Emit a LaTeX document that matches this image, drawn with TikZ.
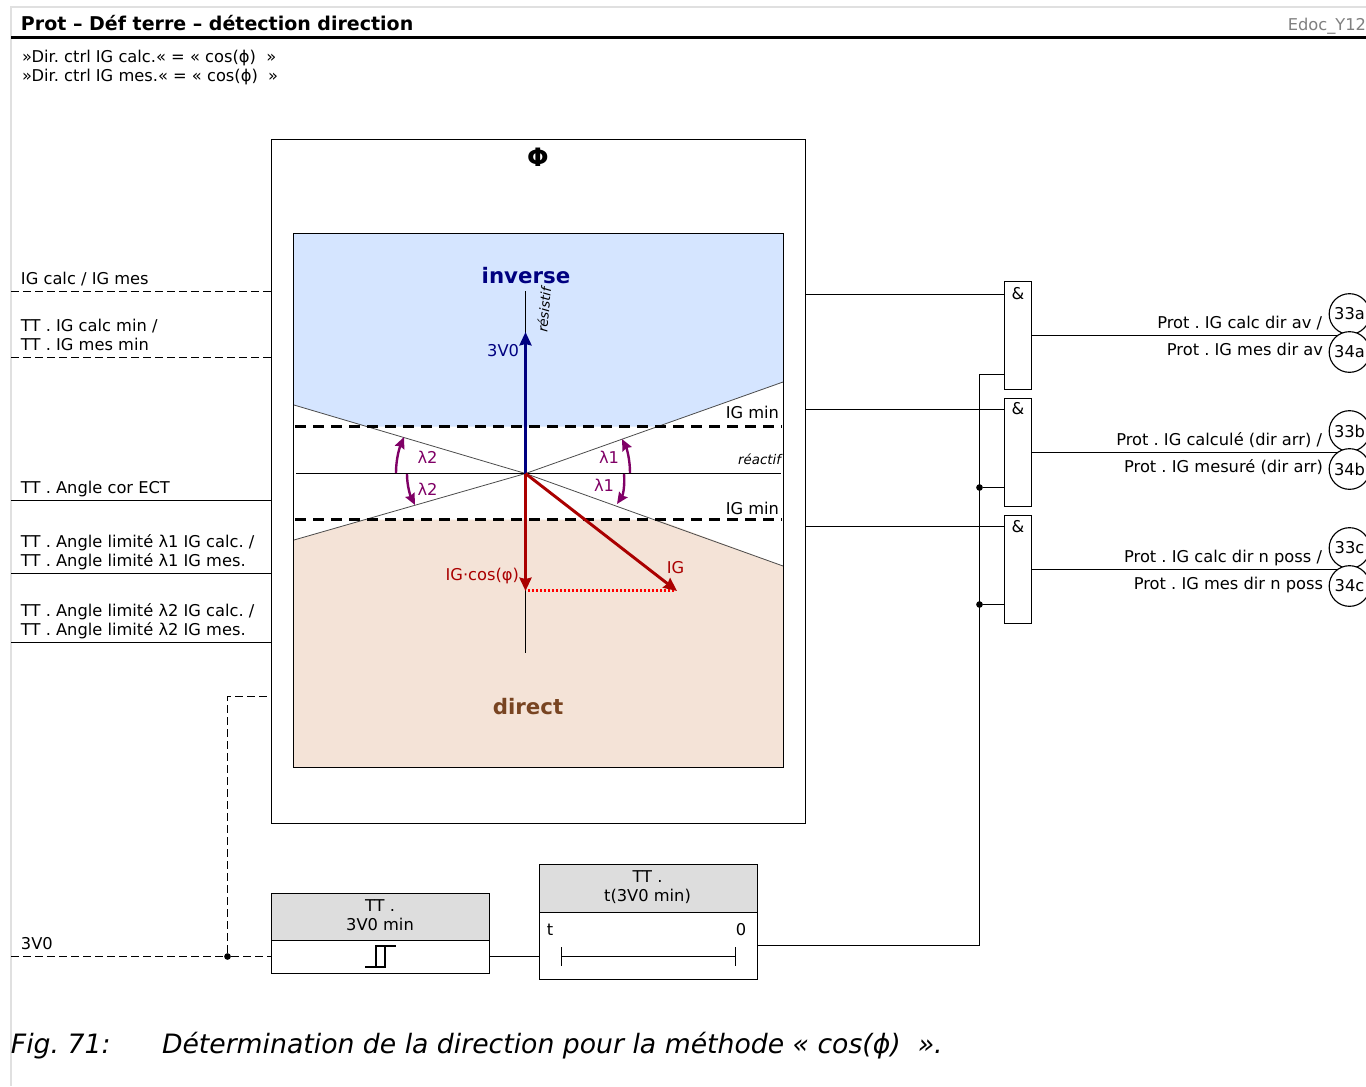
\documentclass[tikz,border=0pt]{standalone}
\usepackage{fontspec}
\setmainfont{DejaVu Sans}
\usetikzlibrary{arrows.meta}
\definecolor{navyc}{HTML}{000080}
\definecolor{redc}{HTML}{AA0000}
\definecolor{purc}{HTML}{800066}
\definecolor{brownc}{HTML}{784421}
\definecolor{bluef}{HTML}{D5E5FF}
\definecolor{brownf}{HTML}{F4E3D7}
\definecolor{greyf}{HTML}{DDDDDD}
\tikzset{
  x=0.75pt,y=-0.75pt,
  wire/.style={line width=1.05pt,black},
  dwire/.style={line width=0.9pt,black,dash pattern=on 6pt off 3pt},
  txt/.style={inner sep=0pt,outer sep=0pt,font=\fontsize{12.2}{14.25}\selectfont\frenchspacing,align=left,anchor=base west},
  rtxt/.style={txt,align=right,anchor=base east},
  ctxt/.style={inner sep=0pt,outer sep=0pt,font=\fontsize{12.2}{14.25}\selectfont\frenchspacing,align=center,anchor=base},
  pbox/.style 2 args={draw=black,line width=1.05pt,minimum width=#1*0.75pt,minimum height=#2*0.75pt,inner sep=0pt,outer sep=0pt,anchor=north west},
  andbox/.style={pbox={27}{108},fill=white},
  ring/.style={circle,draw=black,line width=0.85pt,fill=white,minimum size=30.5pt,inner sep=0pt,font=\fontsize{12.2}{14}\selectfont},
  sector/.style={line width=0.6pt,black!70},
  thick dash/.style={line width=1.6pt,black,dash pattern=on 8.5pt off 5pt},
  purarrow/.style={line width=1.8pt,purc,-{Stealth[length=8.5pt,width=7.5pt,inset=1pt]}},
  redarrow/.style={line width=2.2pt,redc,-{Stealth[length=10pt,width=9pt,inset=1pt]}},
  dot/.style={circle,fill=black,minimum size=5pt,inner sep=0pt},
}
\begin{document}
\begin{tikzpicture}
\useasboundingbox (0,0) rectangle (1366,1086);
\clip (0,0) rectangle (1366,1086);
\fill[white] (0,0) rectangle (1366,1086);
% page frame
\draw[line width=1pt,black!12] (11,1086) -- (11,7) -- (1366,7);
\draw[line width=1.9pt,black] (11,37.5) -- (1366,37.5);
\node[txt,font=\fontsize{14.25}{17}\selectfont\bfseries\frenchspacing] (title) at (21,30) {Prot – Déf terre – détection direction};
\node[rtxt,text=black!50] (edoc) at (1366,30.5) {Edoc\_Y12};
\node[txt] (head) at (22,81) {»Dir. ctrl IG calc.« = « cos(ϕ)\ \ »\\»Dir. ctrl IG mes.« = « cos(ϕ)\ \ »};
% outer box
\node[pbox={534}{684}] (outer) at (271.5,139.5) {};
\node[font=\fontsize{19}{21}\selectfont\bfseries,inner sep=0pt] (phi) at (538,157) {Φ};
% regions
\fill[bluef] (293.5,233.5) -- (783.5,233.5) -- (783.5,382) -- (657,426.7) -- (367,426.7) -- (293.5,405) -- cycle;
\fill[brownf] (293.5,540) -- (365,519.5) -- (657,519.5) -- (783.5,566) -- (783.5,767.5) -- (293.5,767.5) -- cycle;
\node[pbox={490}{534}] (inner) at (293.5,233.5) {};
\coordinate (c) at (525.5,473.5);
\coordinate (lu) at (294,405);
\coordinate (ru) at (783,382);
\coordinate (ll) at (294,540);
\coordinate (rl) at (783,566);
\draw[sector] (lu) -- (c) -- (ru);
\draw[sector] (ll) -- (c) -- (rl);
\coordinate (h1) at (296,473.5);
\coordinate (h2) at (781,473.5);
\draw[line width=1.15pt] (h1) -- (h2);
\coordinate (vt) at (525.5,291);
\coordinate (vb) at (525.5,653);
\draw[line width=1.15pt] (vt) -- (vb);
\coordinate (d1a) at (295,426.5);
\coordinate (d1b) at (782,426.5);
\coordinate (d2a) at (295,519.5);
\coordinate (d2b) at (782,519.5);
\draw[thick dash] (d1a) -- (d1b);
\draw[thick dash] (d2a) -- (d2b);
% vectors
\coordinate (v3) at (525.5,332);
\coordinate (vc) at (525.5,591);
\coordinate (vi) at (677,591);
\draw[line width=2.2pt,navyc,-{Stealth[length=10pt,width=9pt,inset=1pt]}] (c) -- (v3);
\draw[line width=1.7pt,red,dash pattern=on 1.7pt off 1.3pt] (528,590.5) -- (674,590.5);
\draw[redarrow] (c) -- (vc);
\draw[redarrow] (c) -- (vi);
% angle arcs
\draw[purarrow] (396,473) .. controls (396,460) and (399,449) .. (404,437);
\draw[purarrow] (407,474) .. controls (407,485) and (410,495) .. (415,505);
\draw[purarrow] (630,473) .. controls (630,460) and (627,449) .. (622,439);
\draw[purarrow] (624,474) .. controls (625,485) and (623,495) .. (617,504);
% labels in the diagram
\node[ctxt,font=\fontsize{16}{20}\selectfont\bfseries,text=navyc] (inv) at (526,283) {inverse};
\node[ctxt,font=\fontsize{16}{20}\selectfont\bfseries,text=brownc] (dir) at (528,714) {direct};
\node[ctxt,font=\fontsize{10}{12}\selectfont\itshape,rotate=85,anchor=center] (res) at (544,310) {résistif};
\node[rtxt,font=\fontsize{10}{12}\selectfont\itshape] (rea) at (781,464) {réactif};
\node[rtxt,text=navyc] (l3v) at (519,356) {3V0};
\node[rtxt] (ig1) at (779,418) {IG min};
\node[rtxt] (ig2) at (779,514) {IG min};
\node[ctxt,text=purc] (la1) at (427.5,463) {λ2};
\node[ctxt,text=purc] (la2) at (427.5,495) {λ2};
\node[ctxt,text=purc] (la3) at (609,463) {λ1};
\node[ctxt,text=purc] (la4) at (604,491) {λ1};
\node[rtxt,text=redc] (lic) at (519,580) {IG·cos(φ)};
\node[ctxt,text=redc] (lig) at (675.5,573) {IG};
% left inputs
\node[txt] (t1) at (21,284) {IG calc / IG mes};
\node[txt] (t2) at (21,350) {TT . IG calc min /\\TT . IG mes min};
\node[txt] (t3) at (21,493) {TT . Angle cor ECT};
\node[txt] (t4) at (21,566) {TT . Angle limité λ1 IG calc. /\\TT . Angle limité λ1 IG mes.};
\node[txt] (t5) at (21,635) {TT . Angle limité λ2 IG calc. /\\TT . Angle limité λ2 IG mes.};
\node[txt] (t6) at (21,949) {3V0};
\coordinate (s1) at (11,291.5);
\coordinate (s2) at (11,357.5);
\coordinate (s3) at (11,500.5);
\coordinate (s4) at (11,573.5);
\coordinate (s5) at (11,642.5);
\coordinate (s6) at (11,956.5);
\draw[dwire] (s1) -- (outer.west |- s1);
\draw[dwire] (s2) -- (outer.west |- s2);
\draw[wire] (s3) -- (outer.west |- s3);
\draw[wire] (s4) -- (outer.west |- s4);
\draw[wire] (s5) -- (outer.west |- s5);
% threshold block
\node[pbox={218}{80}] (thr) at (271.5,893.5) {};
\fill[greyf] (271.5,893.5) rectangle (489.5,940.5);
\node[pbox={218}{80}] at (271.5,893.5) {};
\draw[wire] (271.5,940.5) -- (489.5,940.5);
\node[ctxt] (thrt) at (380,930.5) {TT .\\3V0 min};
\draw[line width=1pt] (365,967) -- (376,967) -- (376,946) -- (396,946);
\draw[line width=1pt] (385,946) -- (385,967) -- (376,967);
% timer block
\node[pbox={218}{115}] (tim) at (539.5,864.5) {};
\fill[greyf] (539.5,864.5) rectangle (757.5,912.5);
\node[pbox={218}{115}] at (539.5,864.5) {};
\draw[wire] (539.5,912.5) -- (757.5,912.5);
\node[ctxt] (timt) at (647.5,901) {TT .\\t(3V0 min)};
\node[ctxt] (tl) at (550,935) {t};
\node[ctxt] (zl) at (741,935) {0};
\coordinate (ba) at (561,956.5);
\coordinate (bb) at (736,956.5);
\draw[line width=1.05pt,{Bar[width=14pt,length=0pt]}-{Bar[width=14pt,length=0pt]}] (ba) -- (bb);
% wiring bottom
\node[dot] (j1) at (227.5,956.5) {};
\draw[dwire] (s6) -- (j1);
\draw[dwire] (j1) -- (thr.west |- j1);
\coordinate (up) at (227.5,696.5);
\draw[dwire] (j1) -- (up) -- (outer.west |- up);
\draw[wire] (thr.east |- j1) -- (tim.west |- j1);
% AND gates
\node[andbox] (a1) at (1004.5,281.5) {};
\node[andbox] (a2) at (1004.5,398.5) {};
\node[andbox] (a3) at (1004.5,515.5) {};
\node[ctxt] (am1) at (1018,299) {\&};
\node[ctxt] (am2) at (1018,414) {\&};
\node[ctxt] (am3) at (1018,532) {\&};
\coordinate (i1) at (805,294.5);
\coordinate (i2) at (805,409.5);
\coordinate (i3) at (805,526.5);
\draw[wire] (outer.east |- i1) -- (a1.west |- i1);
\draw[wire] (outer.east |- i2) -- (a2.west |- i2);
\draw[wire] (outer.east |- i3) -- (a3.west |- i3);
\coordinate (bus) at (979.5,945.5);
\coordinate (e1) at (979.5,374.5);
\node[dot] (j2) at (979.5,487.5) {};
\node[dot] (j3) at (979.5,604.5) {};
\draw[wire] (tim.east |- bus) -- (bus) -- (e1) -- (a1.west |- e1);
\draw[wire] (j2) -- (a2.west |- j2);
\draw[wire] (j3) -- (a3.west |- j3);
% outputs
\node[ring] (r33a) at (1349.5,314) {33a};
\node[ring] (r34a) at (1349.5,352) {34a};
\node[ring] (r33b) at (1349.5,431) {33b};
\node[ring] (r34b) at (1349.5,469) {34b};
\node[ring] (r33c) at (1349.5,548) {33c};
\node[ring] (r34c) at (1349.5,586) {34c};
\coordinate (o1) at (1338,335.5);
\coordinate (o2) at (1338,452.5);
\coordinate (o3) at (1338,569.5);
\draw[wire] (a1.east |- o1) -- (o1);
\draw[wire] (a2.east |- o2) -- (o2);
\draw[wire] (a3.east |- o3) -- (o3);
\node[rtxt] (o1a) at (1322,328) {Prot . IG calc dir av /};
\node[rtxt] (o1b) at (1323,355) {Prot . IG mes dir av};
\node[rtxt] (o2a) at (1322,445) {Prot . IG calculé (dir arr) /};
\node[rtxt] (o2b) at (1323,472) {Prot . IG mesuré (dir arr)};
\node[rtxt] (o3a) at (1322,562) {Prot . IG calc dir n poss /};
\node[rtxt] (o3b) at (1323,589) {Prot . IG mes dir n poss};
% caption
\node[txt,font=\fontsize{20}{24}\selectfont\itshape\frenchspacing] (cap1) at (11,1053) {Fig. 71:};
\node[txt,font=\fontsize{20}{24}\selectfont\itshape\frenchspacing] (cap2) at (162,1053) {Détermination de la direction pour la méthode « cos(ϕ)\ \ ».};
\end{tikzpicture}
\end{document}
